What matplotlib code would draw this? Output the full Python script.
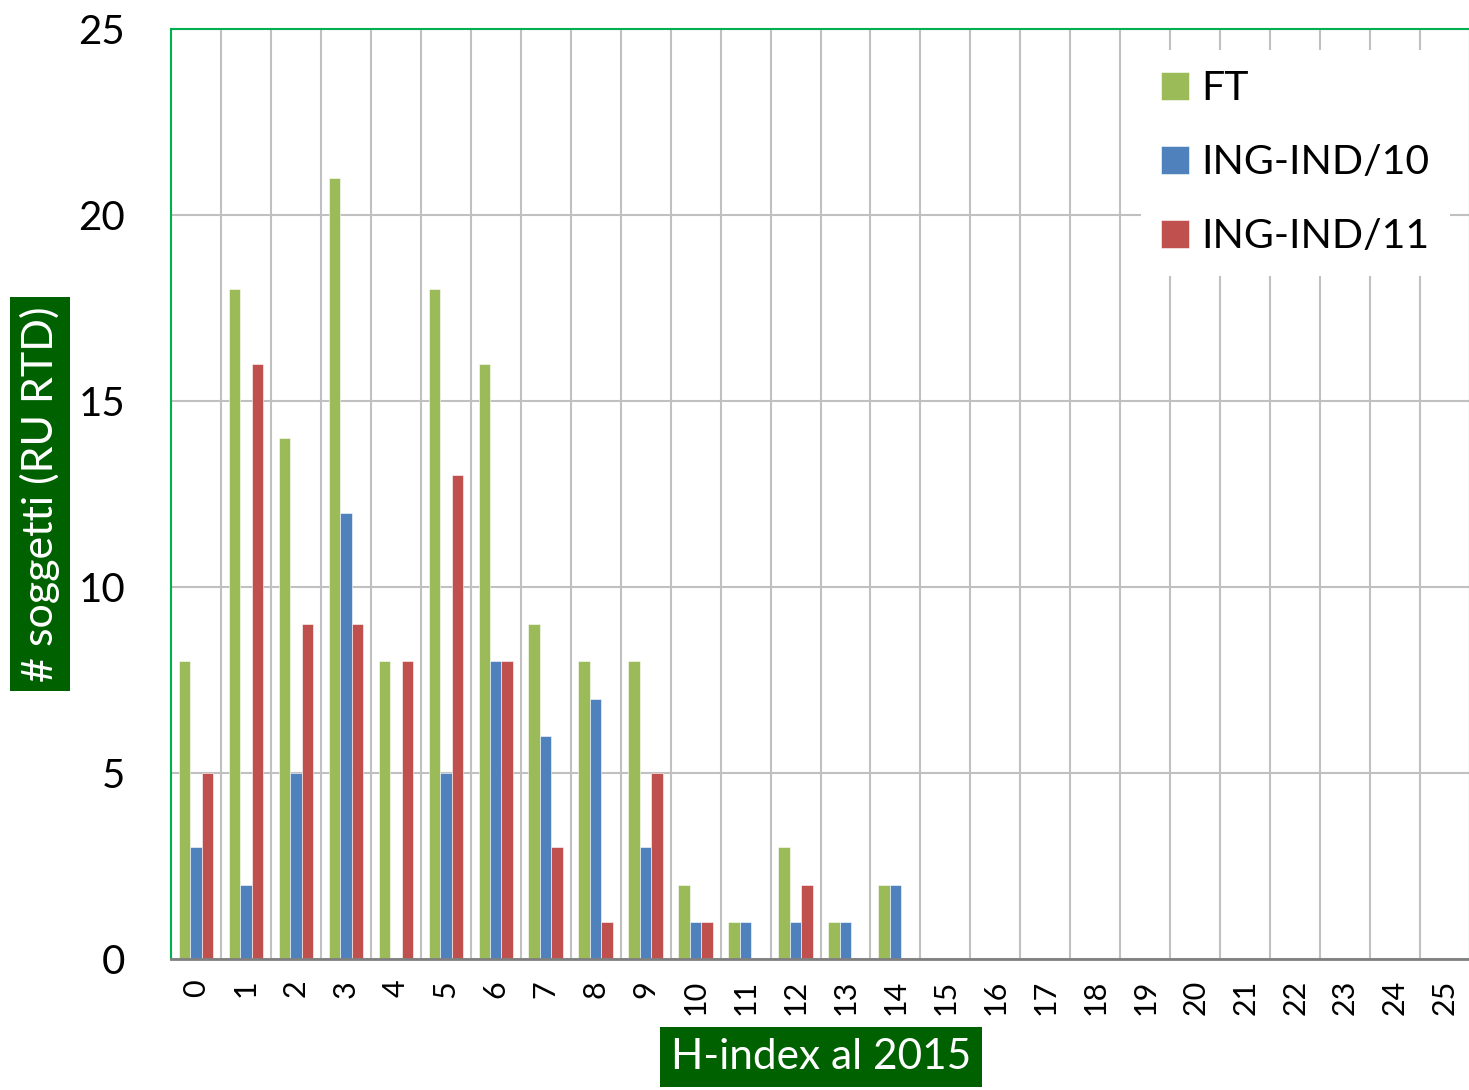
import numpy as np
import matplotlib
matplotlib.use('Agg')
import matplotlib.pyplot as plt

# dati: numero di soggetti per valore di H-index
categorie = list(range(26))
ft = [8, 18, 14, 21, 8, 18, 16, 9, 8, 8, 2, 1, 3, 1, 2, 0, 0, 0, 0, 0, 0, 0, 0, 0, 0, 0]
ing_ind_10 = [3, 2, 5, 12, 0, 5, 8, 6, 7, 3, 1, 1, 1, 1, 2, 0, 0, 0, 0, 0, 0, 0, 0, 0, 0, 0]
ing_ind_11 = [5, 16, 9, 9, 8, 13, 8, 3, 1, 5, 1, 0, 2, 0, 0, 0, 0, 0, 0, 0, 0, 0, 0, 0, 0, 0]
nomi = ['FT', 'ING-IND/10', 'ING-IND/11']
colori = ['#9BBB59', '#4F81BD', '#C0504D']

plt.rcParams['font.family'] = ['Lato', 'DejaVu Sans']

W, H = 1469, 1090
fig = plt.figure(figsize=(W / 100, H / 100), dpi=100)
ax = fig.add_axes([171 / W, 1 - 959 / H, (1470 - 171) / W, (959 - 29) / H])

x = np.arange(len(categorie))
w = 0.23
for i, (serie, col, nome) in enumerate(zip([ft, ing_ind_10, ing_ind_11], colori, nomi)):
    ax.bar(x + (i - 1) * w, serie, width=w, color=col, label=nome,
           edgecolor='white', linewidth=0.4, zorder=3)

ax.set_xlim(-0.5, len(categorie) - 0.5)
ax.set_ylim(0, 25)
ax.set_yticks([0, 5, 10, 15, 20, 25])
ax.set_xticks(x)
ax.set_xticklabels([str(c) for c in categorie], rotation=90, fontsize=22)
ax.set_xticks(np.arange(-0.5, len(categorie), 1), minor=True)
ax.tick_params(axis='x', which='both', length=0, pad=15)
ax.tick_params(axis='y', length=0, pad=33, labelsize=29)

# griglia
ax.grid(axis='y', which='major', color='#C0C0C0', lw=1.5, zorder=0)
ax.grid(axis='x', which='minor', color='#C0C0C0', lw=1.5, zorder=0)
ax.grid(axis='x', which='major', visible=False)

for s in ['top', 'left', 'right']:
    ax.spines[s].set_color('#00B050')
    ax.spines[s].set_linewidth(1.5)
ax.spines['bottom'].set_color('#808080')
ax.spines['bottom'].set_linewidth(2)
ax.spines['bottom'].set_zorder(4)

leg = ax.legend(loc='upper left', bbox_to_anchor=(1141 / W, 1 - 50 / H),
                bbox_transform=fig.transFigure, fontsize=29.5, frameon=True,
                fancybox=False, edgecolor='none', framealpha=1,
                handlelength=0.68, handleheight=0.68, handletextpad=0.3,
                labelspacing=0.9, borderpad=0.5, borderaxespad=0)
leg.set_zorder(5)

# etichette degli assi su sfondo verde
fig.text(821 / W, 1 - 1057 / H, 'H-index al 2015', color='white', fontsize=30.5,
         ha='center', va='center',
         bbox=dict(boxstyle='square,pad=0.25', facecolor='#006100', edgecolor='none'))
fig.text(40 / W, 1 - 494 / H, '# soggetti (RU RTD)', color='white', fontsize=31,
         ha='center', va='center', rotation=90,
         bbox=dict(boxstyle='square,pad=0.22', facecolor='#006100', edgecolor='none'))

fig.savefig('out.png', dpi=100)
